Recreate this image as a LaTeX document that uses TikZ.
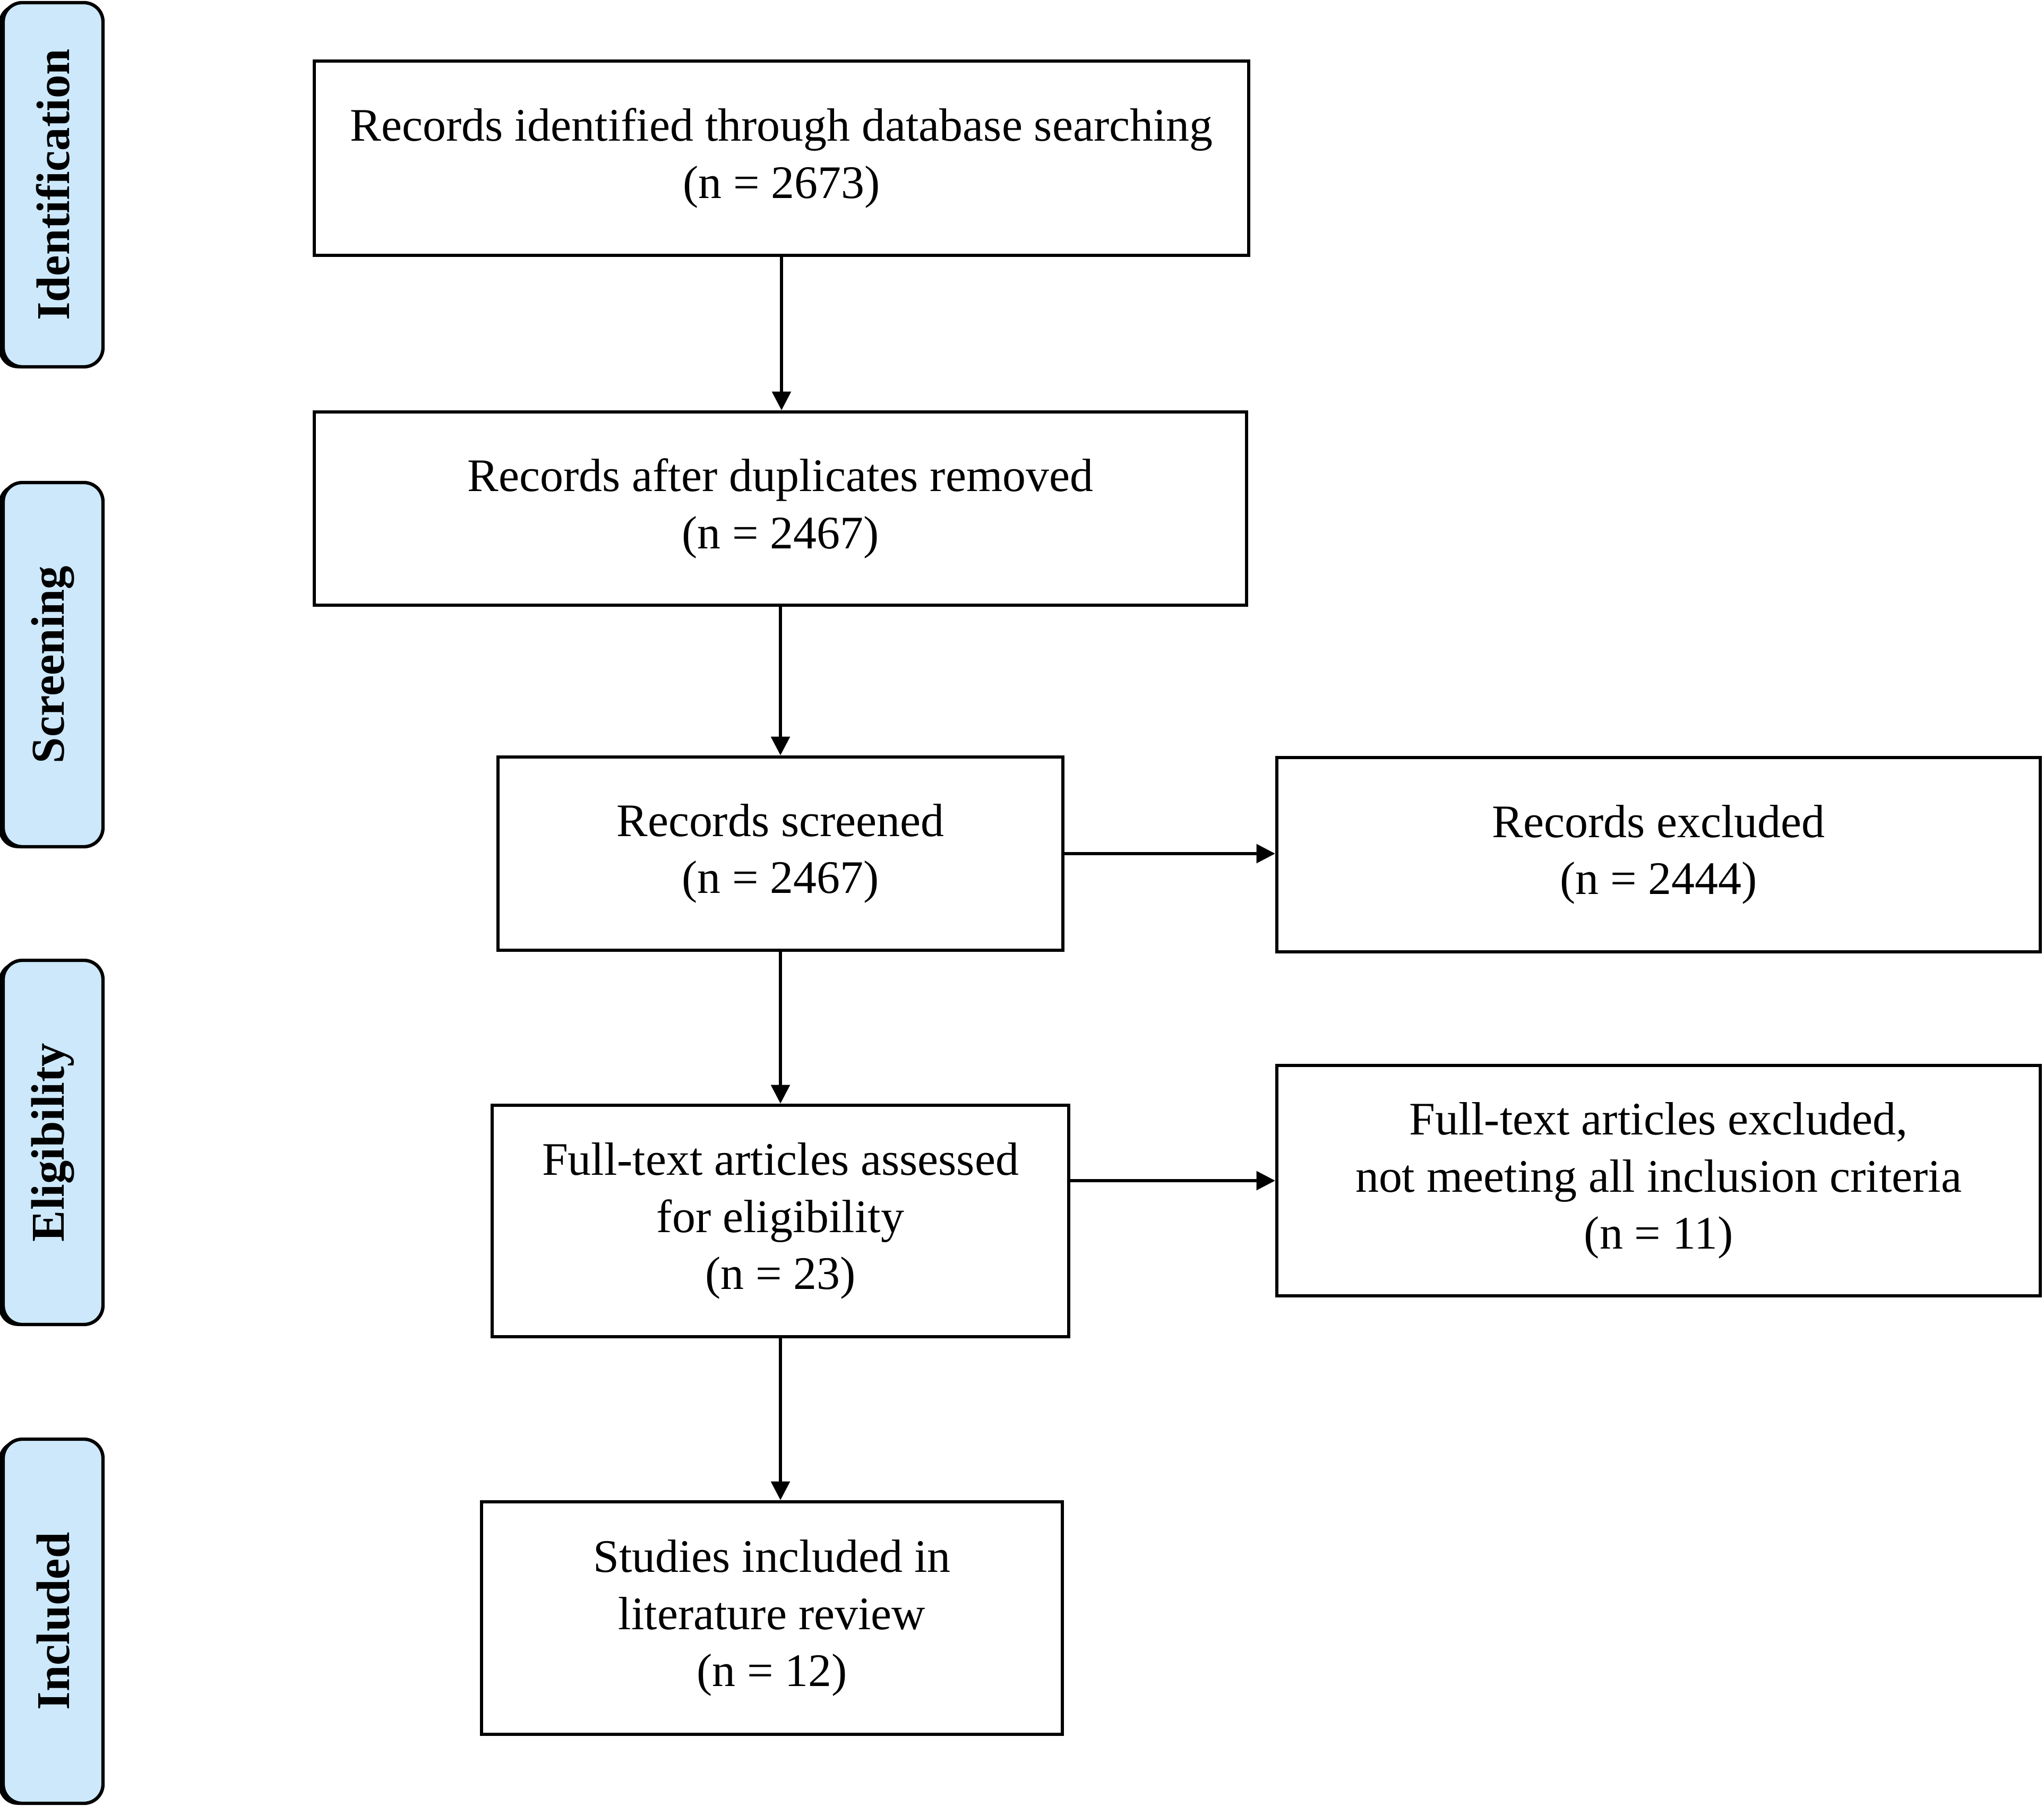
\documentclass[tikz,border=0pt]{standalone}
\usepackage{fontspec}
\setmainfont{Liberation Serif}
\usetikzlibrary{arrows.meta,shadows}
\definecolor{stageblue}{RGB}{204,232,250}
\tikzset{box/.style={draw, line width=0.9pt, align=center, inner sep=2pt, font=\fontsize{12.5}{15.3}\selectfont},
  stage/.style={draw, line width=0.9pt, fill=stageblue, rounded corners=0.18cm, rotate=90, minimum width=3.43cm, minimum height=0.94cm, inner sep=0pt, font=\fontsize{12.6}{15}\selectfont\bfseries, drop shadow={shadow xshift=-1.2pt, shadow yshift=-0.4pt, opacity=1, fill=black}},
  arr/.style={-{Triangle[length=5pt,width=5pt]}, line width=0.75pt}}

\begin{document}
\begin{tikzpicture}
   \useasboundingbox (0,0) rectangle (19.25,-17.01);
   % stages
   \node[stage] (ident) at (0.50, -1.74) {Identification};
   \node[stage] (screen) at (0.50, -6.26) {Screening};
   \node[stage] (elig) at (0.50,-10.76) {Eligibility};
   \node[stage] (incl) at (0.50,-15.27) {Included};
   % boxes
   \node[box, minimum width=8.80cm, minimum height=1.83cm] (found) at ( 7.36, -1.49) {Records identified through database searching\\(n = 2673)};
   \node[box, minimum width=8.78cm, minimum height=1.82cm] (dedup) at ( 7.35, -4.79) {Records after duplicates removed\\(n = 2467)};
   \node[box, minimum width=5.32cm, minimum height=1.82cm] (screened) at ( 7.35, -8.04) {Records screened\\(n = 2467)};
   \node[box, minimum width=7.19cm, minimum height=1.83cm] (excl) at (15.62, -8.05) {Records excluded\\(n = 2444)};
   \node[box, minimum width=5.43cm, minimum height=2.18cm] (fulltext) at ( 7.35,-11.50) {Full-text articles assessed\\for eligibility\\(n = 23)};
   \node[box, minimum width=7.19cm, minimum height=2.17cm] (ftexcl) at (15.62,-11.12) {Full-text articles excluded,\\not meeting all inclusion criteria\\(n = 11)};
   \node[box, minimum width=5.47cm, minimum height=2.19cm] (studies) at ( 7.27,-15.24) {Studies included in\\literature review\\(n = 12)};
   % arrows
   \draw[arr] (found.south) -- (found.south |- dedup.north);
   \draw[arr] (dedup.south) -- (dedup.south |- screened.north);
   \draw[arr] (screened.south) -- (screened.south |- fulltext.north);
   \draw[arr] (fulltext.south) -- (fulltext.south |- studies.north);
   \draw[arr] (screened.east) -- (screened.east -| excl.west);
   \draw[arr] (fulltext.east |- ftexcl.west) -- (ftexcl.west);
\end{tikzpicture}
\end{document}
